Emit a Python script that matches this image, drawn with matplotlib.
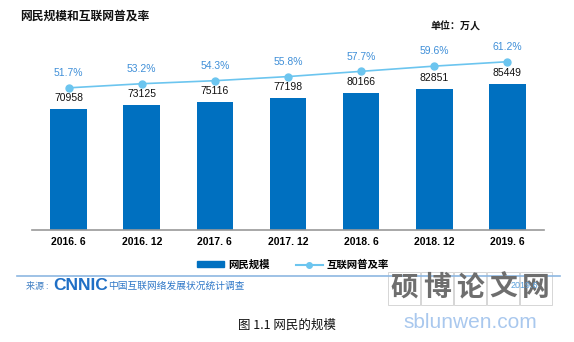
import numpy as np
import matplotlib
matplotlib.use("Agg")
import matplotlib.pyplot as plt
from matplotlib.patches import Rectangle
from matplotlib.lines import Line2D

plt.rcParams['font.family'] = ['Noto Sans CJK SC', 'DejaVu Sans']

periods = ['2016. 6', '2016. 12', '2017. 6', '2017. 12', '2018. 6', '2018. 12', '2019. 6']
users = [70958, 73125, 75116, 77198, 80166, 82851, 85449]   # 万人
rate = [51.7, 53.2, 54.3, 55.8, 57.7, 59.6, 61.2]           # %

bar_col = '#0070c0'
line_col = '#6cc5ef'
pct_col = '#3f8fd8'

W, H = 574, 342
fig = plt.figure(figsize=(W / 100, H / 100), dpi=100)

def fx(px):
    return px / W

def fy(py):
    return 1 - py / H

ax = fig.add_axes([fx(32), fy(230), fx(544) - fx(32), fy(40) - fy(230)])
ax.set_facecolor('none')
x = np.arange(len(periods))
ax.bar(x, users, width=0.5, color=bar_col, zorder=2)
ax.set_xlim(-0.5, len(periods) - 0.5)
ax.set_ylim(0, 111300)
for xi, v in zip(x, users):
    ax.text(xi, v + 3500, str(v), ha='center', va='bottom', fontsize=7.5, color='#111111',
            family='Liberation Sans')
ax.set_xticks(x)
ax.set_xticklabels(periods, fontsize=7.5, fontweight='bold', family='Liberation Sans')
ax.tick_params(axis='x', length=0, pad=5)
ax.set_yticks([])
for s in ['top', 'right', 'left']:
    ax.spines[s].set_visible(False)
ax.spines['bottom'].set_color('#999999')
ax.spines['bottom'].set_linewidth(1.2)

ax2 = ax.twinx()
ax2.set_ylim(0, 69.1)
ax2.plot(x, rate, color=line_col, lw=1.2, marker='o', markersize=5, zorder=3)
for xi, r in zip(x, rate):
    ax2.text(xi, r + 3.5, f'{r}%', ha='center', va='bottom', fontsize=7.5, color=pct_col,
             family='Liberation Sans')
ax2.set_yticks([])
for s in ['top', 'right', 'left', 'bottom']:
    ax2.spines[s].set_visible(False)

# title and unit
fig.text(fx(20), fy(16), '网民规模和互联网普及率', fontsize=8.5, fontweight='bold',
         ha='left', va='center', color='#111111')
fig.text(fx(481), fy(27), '单位：万人', fontsize=7.2, fontweight='bold',
         ha='right', va='center', color='#111111')

# legend
handles = [Rectangle((0, 0), 1, 1, color=bar_col),
           Line2D([0], [0], color=line_col, lw=1.5, marker='o', markersize=4)]
fig.legend(handles, ['网民规模', '互联网普及率'], loc='center',
           bbox_to_anchor=(fx(293), fy(265)), ncol=2, frameon=False,
           prop={'size': 7.5, 'weight': 'bold'}, handlelength=2.6, handleheight=0.5,
           columnspacing=2.5, handletextpad=0.4)

# separator and source line
fig.add_artist(Line2D([fx(17), fx(560)], [fy(276), fy(276)], color='#8db7e2', lw=1.2))
fig.text(fx(26), fy(286), '来源 :', fontsize=6.5, color='#3f7fc4', ha='left', va='center')
fig.text(fx(53), fy(286), 'CNNIC', fontsize=12.5, fontweight='bold', color='#1f6fc5',
         ha='left', va='center', family='Liberation Sans')
fig.text(fx(108), fy(286), '中国互联网络发展状况统计调查', fontsize=7, color='#2f78c8',
         ha='left', va='center')

# site watermark
chars = '硕博论文网'
for i, ch in enumerate(chars):
    cx = 404 + i * 33
    fig.add_artist(Rectangle((fx(cx - 16), fy(305)), fx(32), fy(272) - fy(305),
                             fill=False, ec='#d0d0d0', lw=0.6))
    fig.text(fx(cx), fy(288), ch, fontsize=20, color='#6e6e6e', ha='center', va='center',
             fontweight='bold')
fig.text(fx(538), fy(286), '2019.6', fontsize=6.5, color='#5aa0dc', ha='right', va='center',
         family='Liberation Sans', zorder=5)
fig.text(fx(470), fy(322), 'sblunwen.com', fontsize=15, color='#a9c8ee', ha='center',
         va='center', family='Liberation Sans')

# caption
fig.text(fx(287), fy(325), '图 1.1 网民的规模', fontsize=9, color='#111111',
         ha='center', va='center')

fig.savefig('out.png', dpi=100)
